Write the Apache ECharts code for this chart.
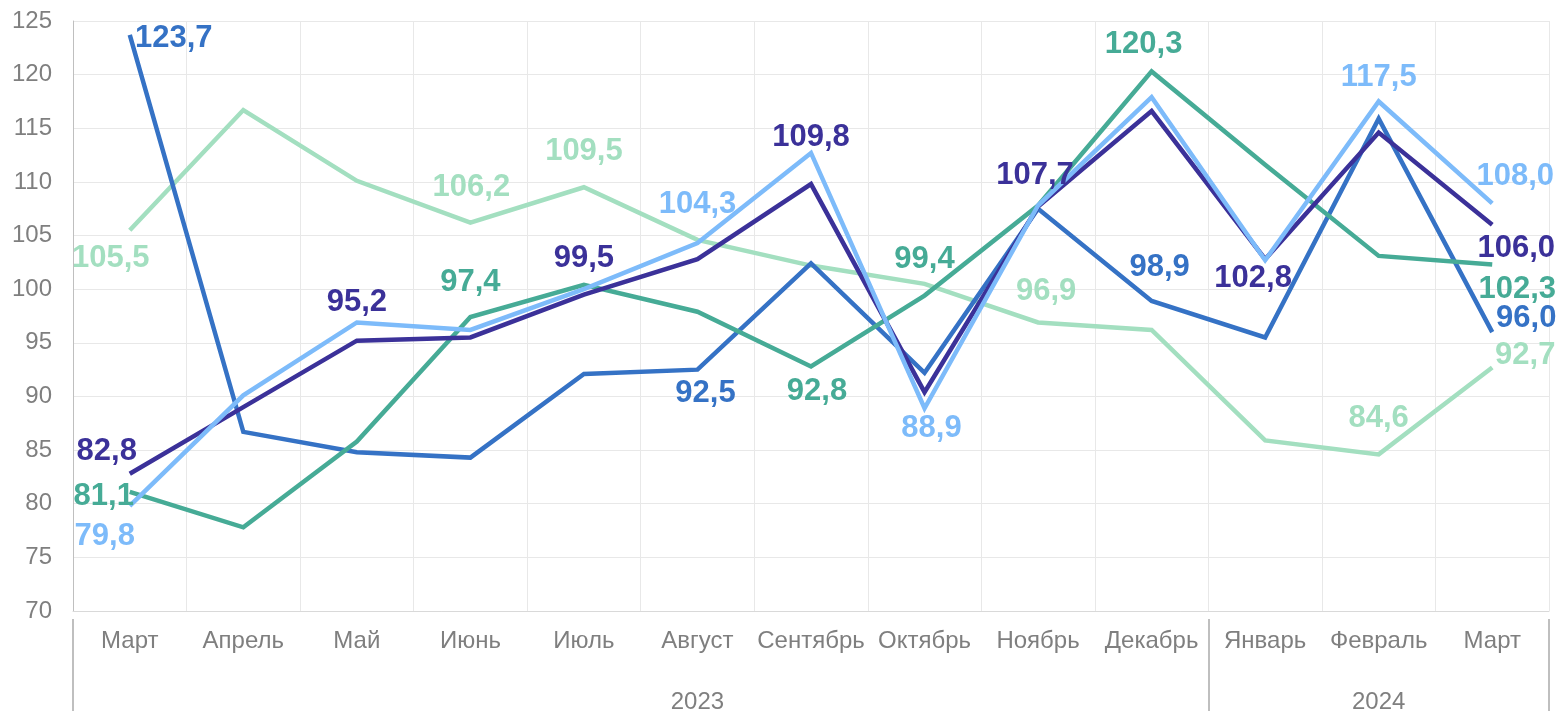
<!DOCTYPE html>
<html>
<head>
<meta charset="utf-8">
<script src="https://cdn.jsdelivr.net/npm/echarts@6/dist/echarts.min.js"></script>
<style>
  html, body { margin: 0; padding: 0; background: #fff; }
  #main { width: 1557px; height: 711px; }
</style>
</head>
<body>
<div id="main"></div>
<script>
// категории и подписи
const months = ["Март", "Апрель", "Май", "Июнь", "Июль", "Август", "Сентябрь", "Октябрь", "Ноябрь", "Декабрь", "Январь", "Февраль", "Март"];
const yearLabels = ["", "", "", "", "", "2023", "", "", "", "", "", "2024", ""];

// значения рядов
const navyValues = [82.8, 89.0, 95.2, 95.5, 99.5, 102.8, 109.8, 90.4, 107.7, 116.6, 102.8, 114.6, 106.0];
const lightBlueValues = [79.8, 90.1, 96.9, 96.2, 100.0, 104.3, 112.7, 88.9, 107.8, 117.9, 102.7, 117.5, 108.0];
const midBlueValues = [123.7, 86.7, 84.8, 84.3, 92.1, 92.5, 102.4, 92.2, 107.5, 98.9, 95.5, 115.9, 96.0];
const tealValues = [81.1, 77.8, 85.8, 97.4, 100.4, 97.9, 92.8, 99.4, 107.8, 120.3, 111.6, 103.1, 102.3];
const lightGreenValues = [105.5, 116.7, 110.1, 106.2, 109.5, 104.6, 102.2, 100.5, 96.9, 96.2, 85.9, 84.6, 92.7];

// какие точки подписаны и куда сдвинута подпись (стиль)
const labelOffsets = {
  navy: { 0: [-23, -22], 2: [0, -38], 4: [0, -36], 6: [0, -47], 8: [-3, -31], 10: [-12, 19], 12: [24, 24] },
  lightBlue: { 0: [-25, 31], 5: [0, -39], 7: [7, 20], 11: [0, -24], 12: [23, -27] },
  midBlue: { 0: [44, 4], 5: [8, 24], 9: [8, -34], 12: [34, -14] },
  teal: { 0: [-26, 5], 3: [0, -35], 6: [6, 25], 7: [0, -36], 9: [-8, -27], 12: [25, 25] },
  lightGreen: { 0: [-19, 28], 3: [1, -35], 4: [0, -36], 8: [8, -31], 11: [0, -36], 12: [33, -12] }
};

const fontFamily = "'Liberation Sans', Arial, sans-serif";

function makeSeries(name, values, color, offsets) {
  return {
    name: name,
    type: "line",
    symbol: "circle",
    symbolSize: 0,
    showSymbol: true,
    lineStyle: { color: color, width: 4.5, join: "miter" },
    itemStyle: { color: color },
    data: values.map((v, i) => {
      if (!offsets[i]) return v;
      return {
        value: v,
        label: {
          show: true,
          position: "inside",
          offset: offsets[i],
          color: color,
          fontSize: 31,
          fontWeight: "bold",
          fontFamily: fontFamily,
          formatter: (p) => p.value.toFixed(1).replace(".", ",")
        }
      };
    })
  };
}

let myChart = echarts.init(document.getElementById("main"));
let option = {
  animation: false,
  grid: { left: 73, right: 8, top: 21, bottom: 100, containLabel: false, outerBoundsMode: "none" },
  xAxis: [
    {
      type: "category",
      data: months,
      boundaryGap: true,
      axisLine: { lineStyle: { color: "#d9d9d9", width: 1 } },
      axisTick: { show: false },
      splitLine: { show: true, interval: 0, lineStyle: { color: "#e8e8e8", width: 1 } },
      axisLabel: { interval: 0, color: "#7f7f7f", fontSize: 24, margin: 18, fontFamily: fontFamily }
    },
    {
      type: "category",
      data: months,
      position: "bottom",
      offset: 8,
      boundaryGap: true,
      axisLine: { show: false },
      axisTick: {
        show: true,
        length: 92,
        interval: (index) => index === 0 || index === 10,
        lineStyle: { color: "#bfbfbf", width: 2 }
      },
      splitLine: { show: false },
      axisLabel: {
        interval: 0,
        color: "#7f7f7f",
        fontSize: 24,
        margin: 71,
        fontFamily: fontFamily,
        formatter: (value, index) => yearLabels[index]
      }
    }
  ],
  yAxis: {
    type: "value",
    min: 70,
    max: 125,
    interval: 5,
    axisLine: { show: true, lineStyle: { color: "#bfbfbf", width: 1 } },
    axisTick: { show: false },
    splitLine: { lineStyle: { color: "#e8e8e8", width: 1 } },
    axisLabel: { color: "#7f7f7f", fontSize: 24, margin: 21, fontFamily: fontFamily }
  },
  series: [
    makeSeries("lightGreen", lightGreenValues, "#a3dfc0", labelOffsets.lightGreen),
    makeSeries("midBlue", midBlueValues, "#3572c5", labelOffsets.midBlue),
    makeSeries("teal", tealValues, "#46ab96", labelOffsets.teal),
    makeSeries("navy", navyValues, "#3b3199", labelOffsets.navy),
    makeSeries("lightBlue", lightBlueValues, "#7dbbfa", labelOffsets.lightBlue)
  ]
};
myChart.setOption(option);
</script>
</body>
</html>
